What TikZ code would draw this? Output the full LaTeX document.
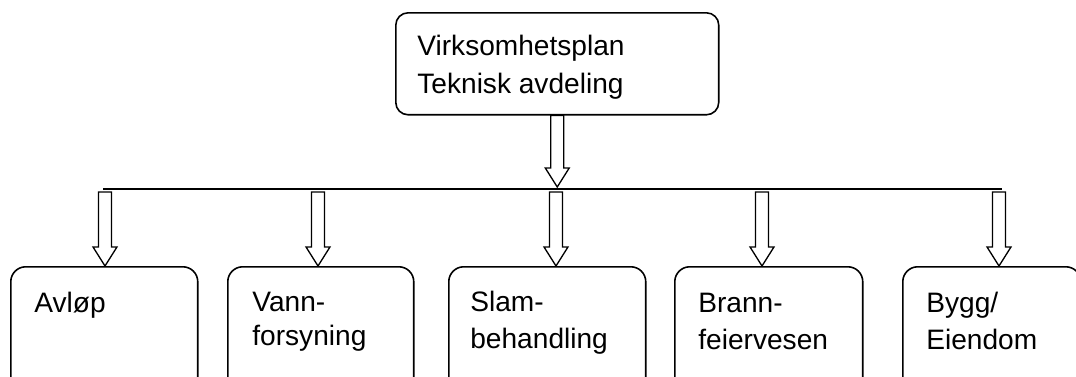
\documentclass[tikz,border=0pt]{standalone}
\usepackage{fontspec}
\setmainfont{Liberation Sans}
\usetikzlibrary{calc}

\tikzset{
  topbox/.style={draw, line width=0.9pt, rounded corners=7pt, minimum width=6.46cm, minimum height=2.04cm, anchor=north west, inner sep=0pt},
  unitbox/.style={draw, line width=0.9pt, rounded corners=8.5pt, minimum width=#1, minimum height=3cm, anchor=north west, inner sep=0pt},
  boxtext/.style={anchor=base west, align=left, inner sep=0pt, font=\fontsize{16}{21}\selectfont},
  hollow/.style={draw, line width=0.75pt, fill=white},
}
\newcommand{\hollowarrow}[2]{%
  \path[hollow] let \p1=(#1), \p2=(#2) in
    (\x1-3.7pt,\y1) -- (\x1-3.7pt,\y2+10.8pt) -- (\x1-6.8pt,\y2+10.8pt) -- (\x1,\y2)
    -- (\x1+6.8pt,\y2+10.8pt) -- (\x1+3.7pt,\y2+10.8pt) -- (\x1+3.7pt,\y1) -- cycle;}

\begin{document}
\begin{tikzpicture}[x=0.02cm,y=-0.02cm]
\useasboundingbox (0,0) rectangle (1076,376);
\clip (0,0) rectangle (1076,376);

% top box
\node[topbox] (plan) at (395,12) {};
% base of a two-line text is its last line
\node[boxtext, font=\fontsize{16}{21.6}\selectfont] (plantext) at (417,93) {Virksomhetsplan\\Teknisk avdeling};

% bus line
\coordinate (busL) at (103,189);
\coordinate (busR) at (1002,189);
\draw[line width=0.75pt] (busL) -- (busR);

% units
\node[unitbox=3.74cm] (avlop) at (10,266) {};
\node[unitbox=3.72cm] (vann) at (227,266) {};
\node[unitbox=3.94cm] (slam) at (448,266) {};
\node[unitbox=3.76cm] (brann) at (674,266) {};
\node[unitbox=3.56cm] (bygg) at (902,266) {};

\node[boxtext] (avloptext) at (34,312) {Avløp};
\node[boxtext, font=\fontsize{16}{18.8}\selectfont] (vanntext) at (252,345) {Vann-\\forsyning};
\node[boxtext] (slamtext) at (470,348) {Slam-\\behandling};
\node[boxtext] (branntext) at (698,349) {Brann-\\feiervesen};
\node[boxtext] (byggtext) at (926,349) {Bygg/\\Eiendom};

% arrows
\hollowarrow{plan.south}{$(plan.south |- busL)+(0,-2)$}

\coordinate (tapA) at (105,192);
\coordinate (tapV) at (318,192);
\coordinate (tapS) at (556,192);
\coordinate (tapB) at (762,192);
\coordinate (tapE) at (999,192);
\hollowarrow{tapA}{tapA |- avlop.north}
\hollowarrow{tapV}{tapV |- vann.north}
\hollowarrow{tapS}{tapS |- slam.north}
\hollowarrow{tapB}{tapB |- brann.north}
\hollowarrow{tapE}{tapE |- bygg.north}

\end{tikzpicture}
\end{document}
